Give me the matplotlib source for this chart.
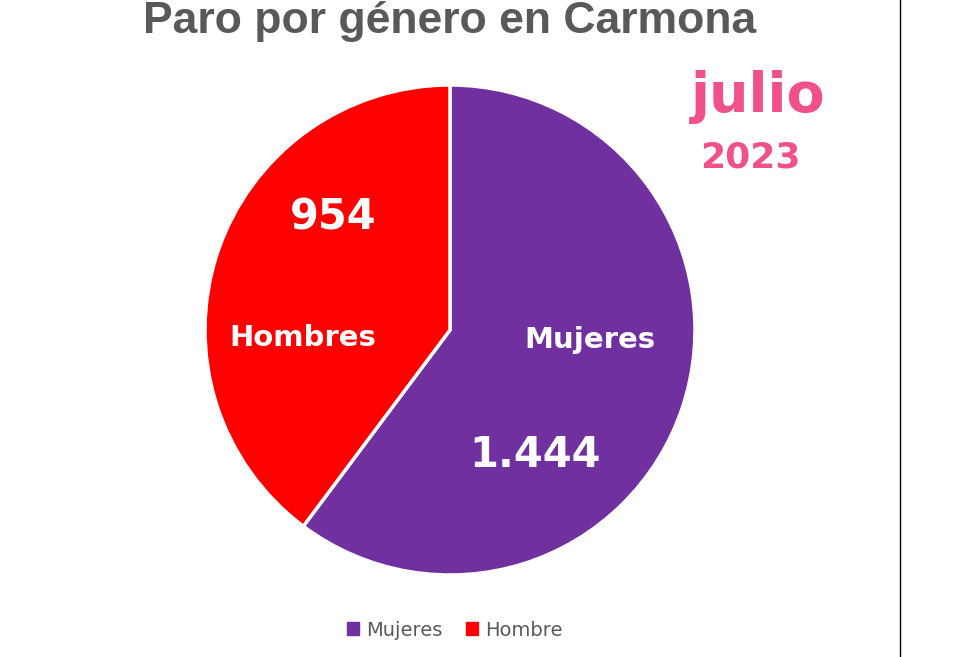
import matplotlib
matplotlib.use("Agg")
import matplotlib.pyplot as plt
from matplotlib.patches import Patch

categories = ["Mujeres", "Hombre"]
slice_names = ["Mujeres", "Hombres"]
values = [1444, 954]
value_labels = ["1.444", "954"]
colors = ["#7030A0", "#FF0000"]

W, H = 972, 657
fig = plt.figure(figsize=(W/100, H/100), dpi=100)
fig.patch.set_facecolor("white")
ax = fig.add_axes([205/W, (H-575)/H, 490/W, 490/H])
ax.pie(values, colors=colors, startangle=90, counterclock=False,
       wedgeprops=dict(edgecolor="white", linewidth=2.5))
ax.set_xlim(-1.0, 1.0)
ax.set_ylim(-1.0, 1.0)
ax.set_aspect("equal")

def px(x, y, s, **kw):
    fig.text(x/W, 1-y/H, s, ha="center", va="center", **kw)

f = "Liberation Sans"
px(450, 22, "Paro por género en Carmona", fontsize=32, fontweight="bold", color="#595959", family=f)
px(758, 97, "julio", fontsize=40, fontweight="bold", color="#F0508C", family="DejaVu Sans")
px(750, 157, "2023", fontsize=26, fontweight="bold", color="#F0508C", family="DejaVu Sans")
px(590, 340, slice_names[0], fontsize=21, fontweight="bold", color="white", family="DejaVu Sans")
px(535, 455, value_labels[0], fontsize=30, fontweight="bold", color="white", family="DejaVu Sans")
px(303, 338, slice_names[1], fontsize=21, fontweight="bold", color="white", family="DejaVu Sans")
px(333, 217, value_labels[1], fontsize=30, fontweight="bold", color="white", family="DejaVu Sans")

handles = [Patch(color=c, label=l) for c, l in zip(colors, categories)]
fig.legend(handles=handles, loc="center", bbox_to_anchor=(455/W, 1-630/H), ncol=2,
           frameon=False, handlelength=0.6, handleheight=0.6, columnspacing=1.2,
           handletextpad=0.4, prop=dict(family="DejaVu Sans", size=14), labelcolor="#595959")

fig.add_artist(plt.Line2D([900/W, 900/W], [0, 1], color="black", linewidth=1))
fig.savefig("out.png", dpi=100)
